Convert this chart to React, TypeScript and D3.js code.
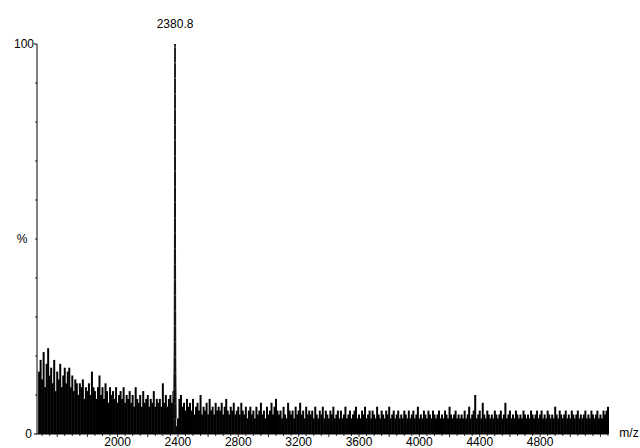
import * as d3 from 'd3';

// m/z axis
const mzStart = 1480;
const mzStep = 10;
const mzEnd = 5250;
const xTickLabels = [2000, 2400, 2800, 3200, 3600, 4000, 4400, 4800];

// base peak
const peakLabel = '2380.8';
const peakMz = 2380.8;
const peakProfile: [number, number][] = [
  [2372, 9], [2375, 22], [2377, 55], [2379, 88], [2380.8, 100],
  [2382, 84], [2384, 45], [2386, 18], [2389, 4],
];

// background noise, % intensity every 10 m/z from 1480
const noise = [
  // 1480-1670
  16, 19, 14, 21, 12, 18, 22, 15, 17, 13, 19, 11, 16, 14, 18, 12, 15, 17, 13, 16,
  // 1680-1870
  17, 12, 15, 11, 14, 13, 10, 13, 12, 14, 9, 12, 11, 13, 10, 16, 12, 11, 9, 12,
  // 1880-2070
  15, 10, 12, 9, 13, 11, 8, 12, 10, 11, 9, 12, 8, 10, 11, 9, 12, 8, 10, 9,
  // 2080-2270
  11, 8, 10, 7, 12, 9, 8, 10, 7, 11, 8, 9, 10, 7, 9, 8, 11, 7, 9, 8,
  // 2280-2470
  9, 7, 13, 8, 10, 7, 9, 10, 8, 11, 3, 2, 4, 9, 10, 7, 8, 6, 9, 7,
  // 2480-2670
  8, 6, 9, 5, 7, 8, 6, 10, 5, 7, 6, 8, 5, 9, 6, 7, 5, 8, 6, 7,
  // 2680-2870
  6, 8, 5, 7, 9, 6, 5, 7, 6, 8, 5, 6, 7, 5, 8, 6, 5, 7, 4, 6,
  // 2880-3070
  7, 5, 6, 4, 7, 5, 6, 8, 5, 6, 4, 7, 5, 6, 8, 5, 7, 9, 6, 5,
  // 3080-3270
  6, 4, 7, 5, 4, 8, 6, 5, 6, 4, 7, 5, 6, 8, 5, 6, 4, 7, 5, 6,
  // 3280-3470
  5, 6, 4, 7, 5, 4, 6, 5, 7, 4, 6, 5, 4, 6, 5, 7, 4, 5, 6, 4,
  // 3480-3670
  6, 4, 5, 7, 4, 5, 6, 4, 5, 6, 7, 4, 5, 4, 6, 5, 7, 4, 5, 6,
  // 3680-3870
  4, 6, 5, 4, 7, 5, 4, 6, 5, 4, 6, 5, 7, 4, 5, 6, 4, 5, 6, 4,
  // 3880-4070
  5, 4, 6, 5, 4, 6, 4, 5, 6, 4, 5, 7, 4, 5, 4, 6, 5, 4, 6, 5,
  // 4080-4270
  4, 6, 5, 4, 5, 6, 4, 5, 4, 6, 5, 4, 7, 5, 4, 5, 6, 4, 5, 4,
  // 4280-4470
  5, 4, 6, 4, 5, 7, 4, 5, 6, 10, 4, 5, 6, 4, 8, 5, 4, 6, 5, 4,
  // 4480-4670
  5, 4, 6, 5, 4, 5, 6, 4, 5, 8, 4, 5, 6, 4, 5, 4, 6, 5, 4, 5,
  // 4680-4870
  4, 6, 5, 4, 5, 4, 6, 5, 4, 5, 6, 4, 5, 6, 4, 5, 4, 6, 5, 4,
  // 4880-5070
  5, 4, 7, 5, 4, 6, 5, 4, 5, 6, 4, 5, 4, 6, 5, 4, 5, 6, 4, 5,
  // 5080-5250
  4, 5, 6, 4, 5, 4, 6, 5, 4, 5, 6, 4, 5, 4, 6, 5, 6, 7,
];

const W = 640;
const H = 448;
const left = 37;
const right = 608;
const top = 44;
const bottom = 434;
const font = '"Liberation Sans", Arial, sans-serif';

export default function App() {
  // axis starts a little before the first noise point
  const x = d3.scaleLinear().domain([1466, mzEnd]).range([left, right]);
  const y = d3.scaleLinear().domain([0, 100]).range([bottom, top]);

  const minorX = d3.range(1500, mzEnd + 1, 50);
  const minorY = d3.range(10, 100, 10);

  const profile = d3.line<[number, number]>()
    .x(d => x(d[0]))
    .y(d => y(d[1]));
  const area = d3.area<[number, number]>()
    .x(d => x(d[0]))
    .y0(y(0))
    .y1(d => y(d[1]));

  return (
    <svg width={W} height={H} style={{ position: 'absolute', left: 0, top: 0, background: '#fff' }}>
      {/* noise sticks */}
      <g stroke="#000" strokeWidth={2}>
        {noise.map((v, i) => {
          const xx = x(mzStart + i * mzStep);
          return <line key={i} x1={xx} x2={xx} y1={y(0)} y2={y(v)} />;
        })}
      </g>

      {/* base peak */}
      <path d={area(peakProfile) ?? ''} fill="#222" />
      <path d={profile(peakProfile) ?? ''} fill="none" stroke="#333" strokeWidth={1} />
      <line x1={x(peakMz)} x2={x(peakMz)} y1={y(0)} y2={y(100)} stroke="#000" strokeWidth={1.2} strokeDasharray="14,1.5" />
      <text x={x(peakMz)} y={28} textAnchor="middle" fontFamily={font} fontSize={12}>{peakLabel}</text>

      {/* y axis */}
      <line x1={left} x2={left} y1={y(0)} y2={y(100)} stroke="#000" strokeWidth={1} />
      <line x1={left - 3} x2={left} y1={y(100)} y2={y(100)} stroke="#000" />
      <line x1={left - 3} x2={left} y1={y(0)} y2={y(0)} stroke="#000" />
      {minorY.map(t => (
        <line key={t} x1={left - 2} x2={left} y1={y(t)} y2={y(t)} stroke="#000" strokeWidth={0.8} />
      ))}
      <text x={left - 3} y={y(100) + 4} textAnchor="end" fontFamily={font} fontSize={12}>100</text>
      <text x={22} y={y(50) + 4} textAnchor="middle" fontFamily={font} fontSize={12}>%</text>
      <text x={left - 5} y={y(0) + 4} textAnchor="end" fontFamily={font} fontSize={12}>0</text>

      {/* x axis */}
      <line x1={left} x2={right} y1={bottom} y2={bottom} stroke="#000" strokeWidth={1} />
      {minorX.map(t => (
        <line key={t} x1={x(t)} x2={x(t)} y1={bottom} y2={bottom + (t % 200 === 0 ? 3 : 2)} stroke="#000" strokeWidth={0.8} />
      ))}
      {xTickLabels.map(t => (
        <text key={t} x={x(t)} y={446} textAnchor="middle" fontFamily={font} fontSize={12}>{t}</text>
      ))}
      <text x={629} y={437} textAnchor="middle" fontFamily={font} fontSize={12}>m/z</text>
    </svg>
  );
}
